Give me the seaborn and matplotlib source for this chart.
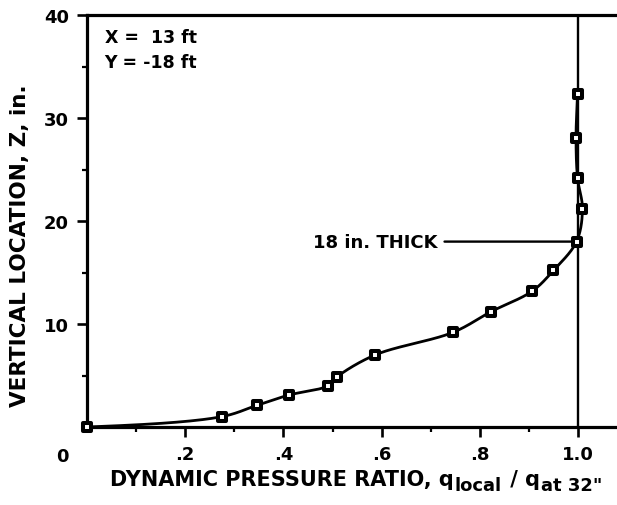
import numpy as np
import pandas as pd
import matplotlib
matplotlib.use("Agg")
import matplotlib.pyplot as plt
from matplotlib.ticker import MultipleLocator, FixedLocator, FixedFormatter
import seaborn as sns

# Dynamic pressure profile through the boundary layer
q_ratio = [0.0, 0.274, 0.346, 0.411, 0.491, 0.510, 0.587, 0.746, 0.823,
           0.907, 0.950, 0.997, 1.009, 0.999, 0.996, 0.999]
z_in = [0.0, 1.0, 2.1, 3.1, 4.0, 4.9, 7.0, 9.2, 11.2,
        13.2, 15.2, 18.0, 21.2, 24.2, 28.1, 32.3]
x_ticks = [0.2, 0.4, 0.6, 0.8, 1.0]
x_tick_labels = [".2", ".4", ".6", ".8", "1.0"]
y_ticks = [10, 20, 30, 40]
y_tick_labels = ["10", "20", "30", "40"]
thickness_z = 18.0

FIG_W, FIG_H = 617, 506


def smooth_curve(xs, ys, n=40):
    """Centripetal Catmull-Rom curve through the given points,
    leaving the wall tangent to the floor."""
    P = np.column_stack([xs, ys]).astype(float)
    S = np.array([1.0, 1.0 / 47.0])  # equalise screen scale of both axes
    Q = P * S
    start = np.array([Q[0, 0] - (Q[1, 0] - Q[0, 0]), Q[0, 1]])
    Q = np.vstack([start, Q, 2 * Q[-1] - Q[-2]])
    out = []
    for i in range(1, len(Q) - 2):
        p0, p1, p2, p3 = Q[i - 1], Q[i], Q[i + 1], Q[i + 2]
        t0 = 0.0
        t1 = t0 + np.linalg.norm(p1 - p0) ** 0.5
        t2 = t1 + np.linalg.norm(p2 - p1) ** 0.5
        t3 = t2 + np.linalg.norm(p3 - p2) ** 0.5
        t = np.linspace(t1, t2, n)[:, None]
        a1 = (t1 - t) / (t1 - t0) * p0 + (t - t0) / (t1 - t0) * p1
        a2 = (t2 - t) / (t2 - t1) * p1 + (t - t1) / (t2 - t1) * p2
        a3 = (t3 - t) / (t3 - t2) * p2 + (t - t2) / (t3 - t2) * p3
        b1 = (t2 - t) / (t2 - t0) * a1 + (t - t0) / (t2 - t0) * a2
        b2 = (t3 - t) / (t3 - t1) * a2 + (t - t1) / (t3 - t1) * a3
        c = (t2 - t) / (t2 - t1) * b1 + (t - t1) / (t2 - t1) * b2
        out.append(c if i == 1 else c[1:])
    C = np.vstack(out) / S
    return C[:, 0], C[:, 1]


sns.set_theme(style="white")
plt.rcParams["font.family"] = ["DejaVu Sans"]
plt.rcParams["font.weight"] = "bold"

fig = plt.figure(figsize=(FIG_W / 100, FIG_H / 100), dpi=100)
ax = fig.add_axes([87 / FIG_W, 1 - 428 / FIG_H, 530 / FIG_W, 412 / FIG_H])

# boundary-layer edge reference line
ax.axvline(1.0, color="black", lw=1.7, zorder=2)

cx, cy = smooth_curve(q_ratio, z_in)
curve = pd.DataFrame({"q": cx, "z": cy})
sns.lineplot(data=curve, x="q", y="z", sort=False, estimator=None,
             color="black", lw=2.0, ax=ax, zorder=3)

pts = pd.DataFrame({"q": q_ratio, "z": z_in})
sns.scatterplot(data=pts, x="q", y="z", marker="s", s=34,
                facecolor="white", edgecolor="black", linewidth=2.9,
                ax=ax, zorder=5, clip_on=False)

ax.set_xlim(0, 530 / 491)
ax.set_ylim(0, 40)

ax.xaxis.set_major_locator(FixedLocator(x_ticks))
ax.xaxis.set_major_formatter(FixedFormatter(x_tick_labels))
ax.xaxis.set_minor_locator(MultipleLocator(0.1))
ax.yaxis.set_major_locator(FixedLocator(y_ticks))
ax.yaxis.set_major_formatter(FixedFormatter(y_tick_labels))
ax.yaxis.set_minor_locator(MultipleLocator(5))

ax.tick_params(which="major", direction="out", length=7, width=1.9,
               labelsize=13, pad=6, color="black", labelcolor="black",
               bottom=True, left=True)
ax.tick_params(which="minor", direction="out", length=3.5, width=1.6,
               color="black", bottom=True, left=True)
for lab in ax.get_xticklabels() + ax.get_yticklabels():
    lab.set_fontweight("bold")

for side in ["left", "top", "bottom"]:
    ax.spines[side].set_visible(True)
    ax.spines[side].set_color("black")
    ax.spines[side].set_linewidth(2.3)
ax.spines["right"].set_visible(False)
ax.set_xlabel("")
ax.set_ylabel("")

# y-axis title
fig.text(20 / FIG_W, 1 - 246 / FIG_H, "VERTICAL LOCATION, Z, in.",
         fontsize=15.5, fontweight="bold", rotation=90,
         ha="center", va="center", color="black")

# x-axis title, built piecewise so the subscripts stay near full size
fig.canvas.draw()
renderer = fig.canvas.get_renderer()
x_px = 110.0
base_px = FIG_H - 486.0
for s, size, dy in [("DYNAMIC PRESSURE RATIO, q", 15, 0),
                    ("local", 13, -5),
                    (" / q", 15, 0),
                    ('at 32"', 13, -5)]:
    t = fig.text(x_px / FIG_W, (base_px + dy) / FIG_H, s, fontsize=size,
                 fontweight="bold", ha="left", va="baseline", color="black")
    x_px = t.get_window_extent(renderer).x1 + 1

# shared origin label
fig.text(62 / FIG_W, 1 - 457 / FIG_H, "0", fontsize=13, fontweight="bold",
         ha="center", va="center", color="black")

ax.text(0.036, 37.9, "X =  13 ft", fontsize=12.5, fontweight="bold",
        ha="left", va="center", color="black")
ax.text(0.036, 35.4, "Y = -18 ft", fontsize=12.5, fontweight="bold",
        ha="left", va="center", color="black")

# boundary-layer thickness callout
ax.annotate("18 in. THICK", xy=(1.0, thickness_z), xytext=(0.713, thickness_z),
            fontsize=13, fontweight="bold", ha="right", va="center",
            color="black",
            arrowprops=dict(arrowstyle="-", color="black", lw=1.7,
                            shrinkA=3, shrinkB=0))

fig.savefig("out.png", dpi=100)
